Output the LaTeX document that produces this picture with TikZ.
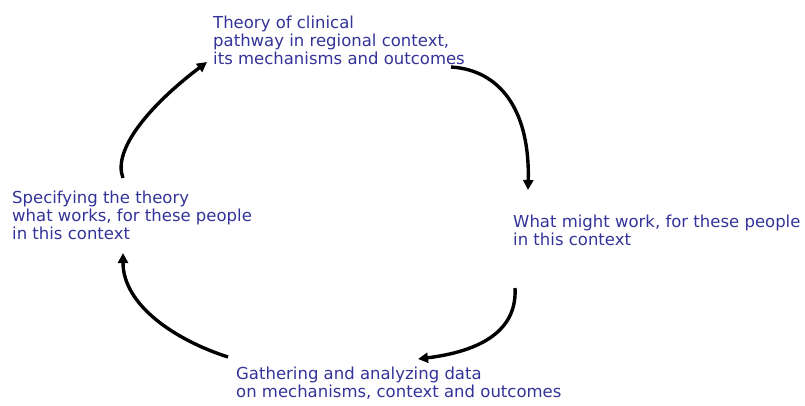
\documentclass[tikz,border=0pt]{standalone}
\usepackage{fontspec}
\setmainfont{DejaVu Sans}
\usetikzlibrary{arrows.meta}
\definecolor{txtblue}{RGB}{51,51,153}
\tikzset{
  lbl/.style={anchor=base west, inner sep=0pt, align=left, text=txtblue,
    font=\fontsize{16.5}{18}\selectfont},
  cyc/.style={line width=3.4pt, -{Triangle[length=10pt,width=10pt]}}
}
\begin{document}
\begin{tikzpicture}[x=1pt,y=-1pt]
\useasboundingbox (0,0) rectangle (805,405);
\node[lbl] (top) at (213,64) {Theory of clinical\\pathway in regional context,\\its mechanisms and outcomes};
\node[lbl] (right) at (513,245) {What might work, for these people\\in this context};
\node[lbl] (bottom) at (236,397) {Gathering and analyzing data\\on mechanisms, context and outcomes};
\node[lbl] (left) at (12,239) {Specifying the theory\\what works, for these people\\in this context};
\coordinate (a1) at (451,67);
\coordinate (a2) at (528,190);
\coordinate (b1) at (515,288);
\coordinate (b2) at (418,359);
\coordinate (c1) at (228,357);
\coordinate (c2) at (123,253);
\coordinate (d1) at (123,178);
\coordinate (d2) at (207,62);
\draw[cyc] (a1) .. controls (500,70) and (530,110) .. (a2);
\draw[cyc] (b1) .. controls (517,325) and (490,350) .. (b2);
\draw[cyc] (c1) .. controls (175,340) and (123,305) .. (c2);
\draw[cyc] (d1) .. controls (112,150) and (150,105) .. (d2);
\end{tikzpicture}
\end{document}
